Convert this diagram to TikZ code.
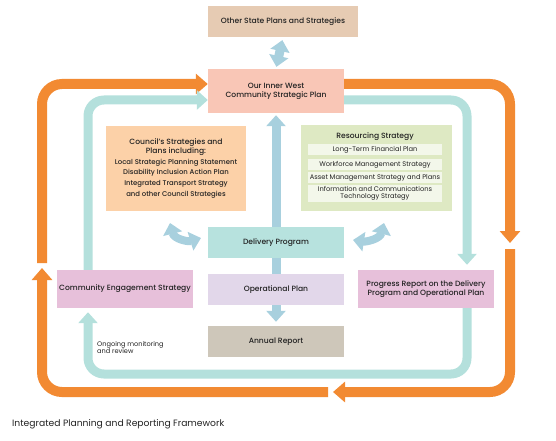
\documentclass[tikz,border=0pt]{standalone}
\usepackage{fontspec}
\setmainfont{Poppins}[BoldFont={Poppins Medium}]
\usetikzlibrary{arrows.meta,backgrounds}

\definecolor{statetan}{HTML}{E6CBB3}
\definecolor{plansalmon}{HTML}{F9C6B6}
\definecolor{councilpeach}{HTML}{FCD1A8}
\definecolor{resgreen}{HTML}{DEE9C3}
\definecolor{resinner}{HTML}{F3F7EA}
\definecolor{delteal}{HTML}{B7E2DE}
\definecolor{oplav}{HTML}{E2D7EA}
\definecolor{annualgrey}{HTML}{CEC7BA}
\definecolor{engpink}{HTML}{E7C0DA}
\definecolor{flowor}{HTML}{F28A32}
\definecolor{flowteal}{HTML}{B4E0DC}
\definecolor{flowblue}{HTML}{A8D0DE}
\definecolor{textdark}{HTML}{222222}

\newcommand{\listline}[1]{{\fontsize{6.9}{9}\selectfont #1}}

\begin{document}
\begin{tikzpicture}[x=1pt, y=-1pt,
  box/.style={inner sep=0pt, align=center, text=textdark,
    font=\bfseries\fontsize{7.6}{9.2}\selectfont},
  subbox/.style={fill=resinner, inner sep=0pt, align=center, text=textdark,
    minimum width=134pt, font=\fontsize{6.7}{7.6}\selectfont},
  orangeflow/.style={draw=flowor, line width=10pt, rounded corners=20pt,
    -{Triangle[width=20pt,length=12pt]}},
  tealflow/.style={draw=flowteal, line width=9pt, rounded corners=16pt,
    -{Triangle[width=19pt,length=11pt]}},
  blueflow/.style={draw=flowblue, line width=9pt,
    -{Triangle[width=19pt,length=11pt]}},
  twoway/.style={draw=flowblue, line width=9pt,
    {Triangle[width=19pt,length=11pt]}-{Triangle[width=19pt,length=11pt]}},
]
\useasboundingbox (0,0) rectangle (556,441);

% boxes
\node[box, fill=statetan, minimum width=150pt, minimum height=31pt] (other) at (283,21.5) {Other State Plans and Strategies};
\node[box, fill=plansalmon, minimum width=136pt, minimum height=44pt] (plan) at (276,91) {Our Inner West\\Community Strategic Plan};
\node[box, fill=councilpeach, minimum width=140pt, minimum height=85pt] (council) at (176,168.5) {Council's Strategies and\\Plans including:\\[1pt]
  \listline{Local Strategic Planning Statement}\\[1.5pt]\listline{Disability Inclusion Action Plan}\\[1.5pt]
  \listline{Integrated Transport Strategy}\\[1.5pt]\listline{and other Council Strategies}};
\node[box, fill=resgreen, minimum width=151pt, minimum height=86pt] (resource) at (376.5,168) {};
\node[box] (restitle) at (375,137) {Resourcing Strategy};
\node[subbox, minimum height=11pt] (ltfp) at (375,149.5) {Long-Term Financial Plan};
\node[subbox, minimum height=11pt] (wms) at (375,164.5) {Workforce Management Strategy};
\node[subbox, minimum height=11pt] (ams) at (375,177.5) {Asset Management Strategy and Plans};
\node[subbox, minimum height=17pt] (ict) at (375,193.5) {Information and Communications\\Technology Strategy};
\node[box, fill=delteal, minimum width=136pt, minimum height=31pt] (delivery) at (276,242.5) {Delivery Program};
\node[box, fill=oplav, minimum width=136pt, minimum height=31pt] (operational) at (276,289.5) {Operational Plan};
\node[box, fill=annualgrey, minimum width=136pt, minimum height=31pt] (annual) at (276,341.5) {Annual Report};
\node[box, fill=engpink, minimum width=136pt, minimum height=38pt] (comm) at (125,289) {Community Engagement Strategy};
\node[box, fill=engpink, minimum width=136pt, minimum height=38pt] (prog) at (426,289) {Progress Report on the Delivery\\Program and Operational Plan};

% labels
\node[anchor=north west, align=left, inner sep=0pt, text=textdark, font=\fontsize{6.6}{7.4}\selectfont] (review) at (97,341) {Ongoing monitoring\\and review};
\node[anchor=west, inner sep=0pt, text=textdark, font=\fontsize{9.2}{10}\selectfont] (caption) at (12,424) {Integrated Planning and Reporting Framework};

% loop corners
\coordinate (oTL) at (42,84);
\coordinate (oTR) at (510,84);
\coordinate (oBR) at (510,392);
\coordinate (oBL) at (42,392);
\coordinate (oA) at (42,263);
\coordinate (oB) at (510,243);
\coordinate (oC) at (510,249);
\coordinate (oD) at (333,392);
\coordinate (oE) at (328,392);
\coordinate (oF) at (42,268);
\coordinate (tTL) at (88,100);
\coordinate (tTR) at (467,100);
\coordinate (tBR) at (467,374);
\coordinate (tBL) at (88,374);
\coordinate (lcA) at (170,223);
\coordinate (lcB) at (201,238);
\coordinate (rcA) at (353,240);
\coordinate (rcB) at (384,223);

\begin{pgfonlayer}{background}
% outer cycle
\draw[orangeflow] (oA) -- (oTL) -- (plan.west |- oTL);
\draw[orangeflow] (plan.east |- oTR) -- (oTR) -- (oB);
\draw[orangeflow] (oC) -- (oBR) -- (oD);
\draw[orangeflow] (oE) -- (oBL) -- (oF);
% monitoring cycle
\draw[tealflow] (comm.north -| tTL) -- (tTL) -- (plan.west |- tTL);
\draw[tealflow, shorten >=5pt] (plan.east |- tTR) -- (tTR) -- (prog.north -| tTR);
\draw[tealflow, shorten >=4pt] (prog.south -| tBR) -- (tBR) -- (tBL) -- (comm.south -| tBL);
% centre
\draw[twoway, shorten <=3pt, shorten >=2pt] (other.south) -- (plan.north);
\draw[blueflow, shorten >=2pt] (delivery.north) -- (plan.south);
\draw[blueflow, shorten >=4pt] (delivery.south) -- (annual.north);
\draw[twoway, line width=8pt] (lcA) .. controls (174,239) and (188,242) .. (lcB);
\draw[twoway, line width=8pt] (rcA) .. controls (366,242) and (380,239) .. (rcB);
\end{pgfonlayer}
\end{tikzpicture}
\end{document}
